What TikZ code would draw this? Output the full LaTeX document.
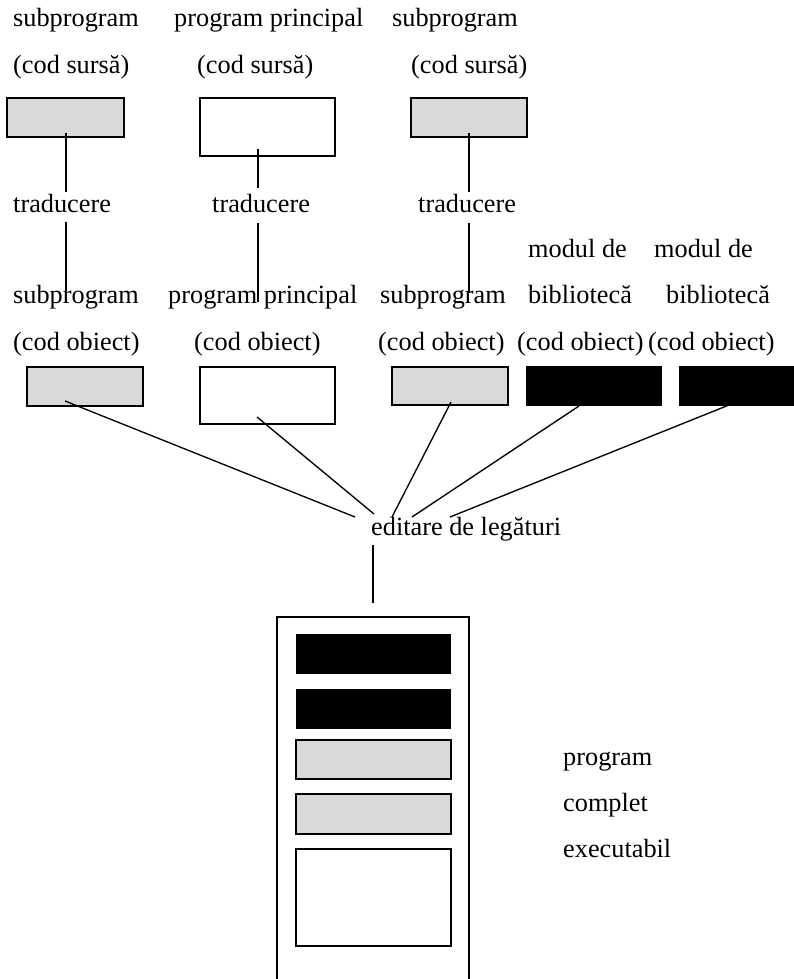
\documentclass[tikz,border=0pt]{standalone}
\usepackage{fontspec}
\setmainfont{Liberation Serif}
\definecolor{modgray}{RGB}{217,217,217}
\begin{document}
\begin{tikzpicture}[x=1pt,y=-1pt,
  lbl/.style={anchor=base west,inner sep=0pt,font=\fontsize{26.3}{30}\selectfont},
  box/.style={anchor=north west,inner sep=0pt,outer sep=0pt,line width=1.4pt},
  graymod/.style={box,draw,fill=modgray},
  whitemod/.style={box,draw,fill=white},
  libmod/.style={box,fill=black},
  link/.style={line width=1.35pt}]
\useasboundingbox (0,0) rectangle (793,979);

% --- source code row
\node[lbl] (h1) at (13,27) {subprogram};
\node[lbl] (h2) at (174,27) {program principal};
\node[lbl] (h3) at (392,27) {subprogram};
\node[lbl] (cs1) at (13,74) {(cod sursă)};
\node[lbl] (cs2) at (197,74) {(cod sursă)};
\node[lbl] (cs3) at (411,74) {(cod sursă)};
\node[graymod,minimum width=117pt,minimum height=39pt] (src1) at (7,98) {};
\node[whitemod,minimum width=135pt,minimum height=58pt] (src2) at (200,98) {};
\node[graymod,minimum width=116pt,minimum height=39pt] (src3) at (411,98) {};

% --- translation step
\node[lbl] (tr1) at (13,212) {traducere};
\node[lbl] (tr2) at (212,212) {traducere};
\node[lbl] (tr3) at (418,212) {traducere};

% --- object code row
\node[lbl] (md1) at (528,257) {modul de};
\node[lbl] (md2) at (654,257) {modul de};
\node[lbl] (o1) at (13,303) {subprogram};
\node[lbl] (o2) at (168,303) {program principal};
\node[lbl] (o3) at (380,303) {subprogram};
\node[lbl] (o4) at (528,303) {bibliotecă};
\node[lbl] (o5) at (666,303) {bibliotecă};
\node[lbl] (co1) at (13,350) {(cod obiect)};
\node[lbl] (co2) at (194,350) {(cod obiect)};
\node[lbl] (co3) at (378,350) {(cod obiect)};
\node[lbl] (co4) at (517,350) {(cod obiect)};
\node[lbl] (co5) at (648,350) {(cod obiect)};
\node[graymod,minimum width=116pt,minimum height=39pt] (objA) at (27,367) {};
\node[whitemod,minimum width=135pt,minimum height=57pt] (objB) at (200,367) {};
\node[graymod,minimum width=116pt,minimum height=38pt] (objC) at (392,367) {};
\node[libmod,minimum width=136pt,minimum height=40pt] (libD) at (526,366) {};
\node[libmod,minimum width=121pt,minimum height=40pt] (libE) at (679,366) {};

% --- linking
\node[lbl] (link) at (371,535) {editare de legături};

% --- executable program
\node[whitemod,minimum width=192pt,minimum height=400pt] (exe) at (277,617) {};
\node[libmod,minimum width=155pt,minimum height=40pt] (e1) at (296,634) {};
\node[libmod,minimum width=155pt,minimum height=40pt] (e2) at (296,689) {};
\node[graymod,minimum width=155pt,minimum height=39pt] (e3) at (296,740) {};
\node[graymod,minimum width=155pt,minimum height=40pt] (e4) at (296,794) {};
\node[whitemod,minimum width=155pt,minimum height=97pt] (e5) at (296,849) {};
\node[lbl] (x1) at (563,765) {program};
\node[lbl] (x2) at (563,811) {complet};
\node[lbl] (x3) at (563,857) {executabil};

% --- connector end points
\coordinate (s1in) at (66,133);  \coordinate (s1a) at (66,192);
\coordinate (s1b) at (66,222);   \coordinate (s1c) at (66,293);
\coordinate (s2in) at (258,149); \coordinate (s2a) at (258,188);
\coordinate (s2b) at (258,223);  \coordinate (s2c) at (258,302);
\coordinate (s3in) at (469,133); \coordinate (s3a) at (469,192);
\coordinate (s3b) at (469,223);  \coordinate (s3c) at (469,293);
\coordinate (aIn) at (65,401);   \coordinate (aOut) at (355,517);
\coordinate (bIn) at (257,417);  \coordinate (bOut) at (374,514);
\coordinate (cIn) at (451,402);  \coordinate (cOut) at (392,517);
\coordinate (dIn) at (579,406);  \coordinate (dOut) at (412,517);
\coordinate (eIn) at (729,405);  \coordinate (eOut) at (450,517);
\coordinate (vTop) at (373,545); \coordinate (vBot) at (373,603);

\draw[link] (s1in) -- (s1a) (s1b) -- (s1c);
\draw[link] (s2in) -- (s2a) (s2b) -- (s2c);
\draw[link] (s3in) -- (s3a) (s3b) -- (s3c);
\draw[link] (aIn) -- (aOut);
\draw[link] (bIn) -- (bOut);
\draw[link] (cIn) -- (cOut);
\draw[link] (dIn) -- (dOut);
\draw[link] (eIn) -- (eOut);
\draw[link] (vTop) -- (vBot);
\end{tikzpicture}
\end{document}
